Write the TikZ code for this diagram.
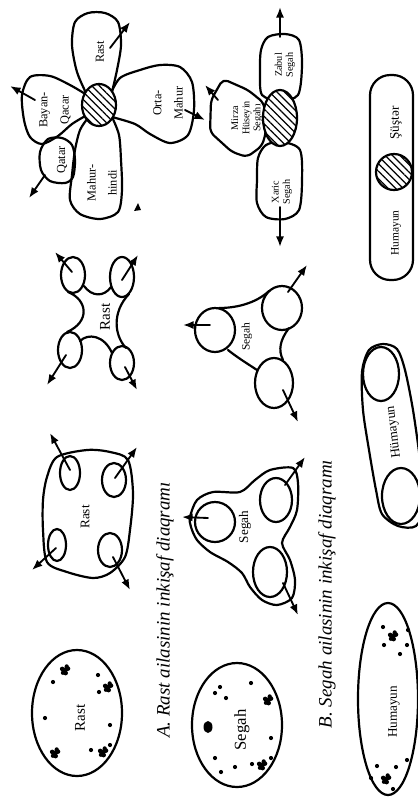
\documentclass[tikz,border=0pt]{standalone}
\usepackage{fontspec}
\setmainfont{Liberation Serif}
\usetikzlibrary{arrows.meta,patterns.meta}
\begin{document}
\begin{tikzpicture}[x=0.02cm,y=-0.02cm,line join=round,line cap=round,
  outl/.style={draw,line width=1.25pt},
  arr/.style={-{Latex[length=6pt,width=4.6pt]},line width=1.05pt},
  hatch/.style={draw,line width=1.25pt,preaction={fill=white},pattern={Lines[angle=-45,distance=3pt,line width=0.7pt]}},
  lab/.style={rotate=90,inner sep=0pt,align=center},
  fA/.style={font=\fontsize{7}{12}\selectfont},
  fB/.style={font=\fontsize{5.8}{6.3}\selectfont},
  fC/.style={font=\fontsize{8.5}{10}\selectfont},
  fD/.style={font=\fontsize{7.5}{9}\selectfont},
  fE/.style={font=\fontsize{6.5}{8}\selectfont},
  fcap/.style={font=\fontsize{10.8}{12}\selectfont\itshape},
  grape/.pic={\fill (0,0) circle[radius=2.6] (3,-1.4) circle[radius=2.3] (-2.8,-1.1) circle[radius=2.3] (0.6,3) circle[radius=2.4] (-2.1,2.8) circle[radius=2.1] (1.7,-3.6) circle[radius=2.1];},
  dot/.pic={\fill (0,0) circle[radius=2.1];}
]
\useasboundingbox (0,0) rectangle (418,799);
\clip (0,0) rectangle (418,799);

% ===== Rast flower =====
\draw[outl] plot[smooth] coordinates {(87,95) (77,72) (72,45) (75,22) (88,13) (105,13) (118,22) (121,45) (117,70) (112,92)};
\draw[outl] plot[smooth] coordinates {(110,95) (120,78) (140,70) (160,65) (180,67) (192,82) (194,110) (188,135) (170,143) (150,134) (135,124) (112,117)};
\draw[outl] plot[smooth] coordinates {(112,117) (119,135) (121,160) (122,190) (118,212) (100,219) (80,214) (70,200) (72,175) (75,150) (80,130) (88,118)};
\draw[outl] plot[smooth] coordinates {(87,95) (70,85) (50,76) (30,77) (22,95) (24,120) (30,137) (42,144) (58,136) (72,124) (87,115)};
\draw[outl] plot[smooth cycle] coordinates {(40,152) (48,139) (62,138) (72,145) (75,160) (73,177) (65,183) (50,181) (41,170)};
\draw[hatch] (99,105) ellipse[x radius=17,y radius=21];
\node[lab,fA] (rastp) at (100,52) {Rast};
\node[lab,fA] (bayan) at (55,110) {Bayan-\\Qacar};
\node[lab,fA] (qatar) at (62,160) {Qatar};
\node[lab,fA] (mahurh) at (102,183) {Mahur-\\hindi};
\node[lab,fA] (orta) at (168,103) {Orta-\\Mahur};
\draw[arr] (110,48) -- (130,22);
\draw[arr] (35,100) -- (10,86);
\draw[arr] (45,175) -- (29,198);
\draw[arr] (185,110) -- (205,120);
\fill (134,211) -- (141,210) -- (138,203) -- cycle;

% ===== Segah flower =====
\draw[outl] plot[smooth cycle] coordinates {(261,50) (268,37) (285,34) (299,40) (302,65) (298,95) (280,100) (262,95) (260,72)};
\draw[outl] plot[smooth cycle] coordinates {(258,158) (266,145) (282,142) (300,150) (302,182) (299,210) (285,219) (266,217) (257,203) (257,180)};
\draw[outl,rounded corners=3pt] (223,79) -- (248,90) -- (264,103) -- (266,132) -- (262,146) -- (247,157) -- (232,152) -- (210,132) -- (211,100) -- cycle;
\draw[hatch] (280,118) ellipse[x radius=17,y radius=28];
\node[lab,fB] (zabul) at (285,65) {Zabul\\Segah};
\node[lab,fB] (xaric) at (282,192) {Xaric\\Segah};
\node[lab,fB] (mirza) at (247,118) {Mirza\\Hüseyin\\Segahı};
\draw[arr] (280,37) -- (280,7);
\draw[arr] (280,207) -- (280,247);
\draw[arr] (218,100) -- (205,85);

% ===== Humayun / Sustar capsule =====
\draw[outl,rounded corners=11.5pt] (370,75) rectangle (413,280);
\draw[hatch] (394,172) ellipse[x radius=18,y radius=18];
\node[lab,fD] (sustar) at (396,123) {Şüştər};
\node[lab,fE] (humay1) at (396,233) {Humayun};

% ===== Rast X =====
\draw[outl] (73,275) ellipse[x radius=12,y radius=18];
\draw[outl] (122,277) ellipse[x radius=12,y radius=20];
\draw[outl] (70,350) ellipse[x radius=12,y radius=18];
\draw[outl] (122,363) ellipse[x radius=12,y radius=17];
\draw[outl] (84,286) .. controls (92,297) and (104,297) .. (111,287);
\draw[outl] (129,294) .. controls (112,312) and (114,335) .. (126,348);
\draw[outl] (112,353) .. controls (104,335) and (88,333) .. (80,341);
\draw[outl] (67,332) .. controls (90,322) and (88,300) .. (68,292);
\node[lab,fC] (rastx) at (105,317) {Rast};
\draw[arr] (72,272) -- (55,252);
\draw[arr] (122,280) -- (138,255);
\draw[arr] (66,355) -- (47,385);
\draw[arr] (125,367) -- (137,390);

% ===== Segah upper (triangle) =====
\draw[outl] (215,330) ellipse[x radius=20,y radius=22];
\draw[outl] (282,308) ellipse[x radius=20,y radius=22];
\draw[outl] (274,383) ellipse[x radius=19,y radius=25];
\draw[outl] (219,308) .. controls (235,308) and (255,304) .. (269,291);
\draw[outl] (289,328) .. controls (280,340) and (278,350) .. (283,360);
\draw[outl] (228,350) .. controls (238,358) and (248,364) .. (257,370);
\node[lab,fE] (segah1) at (247,337) {Segah};
\draw[arr] (210,325) -- (183,325);
\draw[arr] (288,292) -- (307,265);
\draw[arr] (283,390) -- (298,422);

% ===== Hümayun capsule =====
\draw[outl] plot[smooth cycle] coordinates {(383,344) (369,350) (362,372) (363,410) (369,450) (376,490) (382,514) (398,526) (416,526) (424,505) (420,460) (413,410) (405,370) (397,349)};
\draw[outl] (381,374) ellipse[x radius=18,y radius=27];
\draw[outl] (401,496) ellipse[x radius=19,y radius=28];
\node[lab,fD,rotate=7] (humay2) at (394,432) {Hümayun};

% ===== Rast square =====
\draw[outl] plot[smooth cycle] coordinates {(57,457) (87,450) (110,452) (128,460) (133,493) (130,530) (125,557) (110,573) (93,578) (67,572) (47,562) (43,530) (43,500) (47,477)};
\draw[outl] (70,473) ellipse[x radius=10,y radius=17];
\draw[outl] (114,480) ellipse[x radius=12,y radius=17];
\draw[outl] (57,545) ellipse[x radius=9,y radius=16];
\draw[outl] (110,550) ellipse[x radius=12,y radius=17];
\node[lab,fD] (rastsq) at (85,517) {Rast};
\draw[arr] (70,470) -- (50,433);
\draw[arr] (115,478) -- (137,447);
\draw[arr] (56,548) -- (32,570);
\draw[arr] (113,557) -- (130,590);

% ===== Segah lower (double) =====
\draw[outl] plot[smooth cycle] coordinates {(190,517) (197,500) (213,492) (240,492) (255,480) (270,470) (293,468) (298,483) (297,510) (290,527) (282,543) (290,560) (295,580) (292,598) (277,605) (262,600) (250,587) (242,573) (228,562) (210,552) (197,540) (191,527)};
\draw[outl] (215,522) ellipse[x radius=20,y radius=20];
\draw[outl] (276,500) ellipse[x radius=16,y radius=22];
\draw[outl] (270,572) ellipse[x radius=17,y radius=25];
\node[lab,fD] (segah2) at (245,527) {Segah};
\draw[arr] (208,518) -- (182,517);
\draw[arr] (285,485) -- (305,457);
\draw[arr] (283,583) -- (298,615);

% ===== captions =====
\node[lab,fcap] (capA) at (165,610) {A. Rast ailasinin inkişaf diaqramı};
\node[lab,fcap] (capB) at (327,594) {B. Segah ailasinin inkişaf diaqramı};

% ===== dotted Rast =====
\draw[outl] (77,713) ellipse[x radius=45,y radius=63];
\node[lab,fC] (rastd) at (80,718) {Rast};
\pic at (65,670) {grape};
\pic at (108,687) {grape};
\pic at (55,753) {grape};
\pic at (103,752) {grape};
\foreach \p in {(53,682),(98,675),(99,692),(45,718),(110,725),(91,750),(110,745)} \pic at \p {dot};

% ===== dotted Segah =====
\draw[outl] (237,725) ellipse[x radius=45,y radius=62];
\node[lab,font=\fontsize{9.5}{11}\selectfont] (segahd) at (242,730) {Segah};
\pic at (268,700) {grape};
\pic at (262,765) {grape};
\fill (208,727) ellipse[x radius=4.5,y radius=6];
\foreach \p in {(251,683),(215,693),(220,687),(226,698),(271,738),(215,758),(221,772),(235,767),(252,764),(271,758)} \pic at \p {dot};

% ===== dotted Humayun =====
\draw[outl] (388,699) ellipse[x radius=30,y radius=96];
\node[lab,fD] (humay3) at (394,712) {Humayun};
\pic at (393,636) {grape};
\pic at (386,779) {grape};
\foreach \p in {(383,627),(408,630),(384,645),(407,645),(400,654),(371,778),(377,766),(396,767),(407,760),(393,789)} \pic at \p {dot};
\end{tikzpicture}
\end{document}
